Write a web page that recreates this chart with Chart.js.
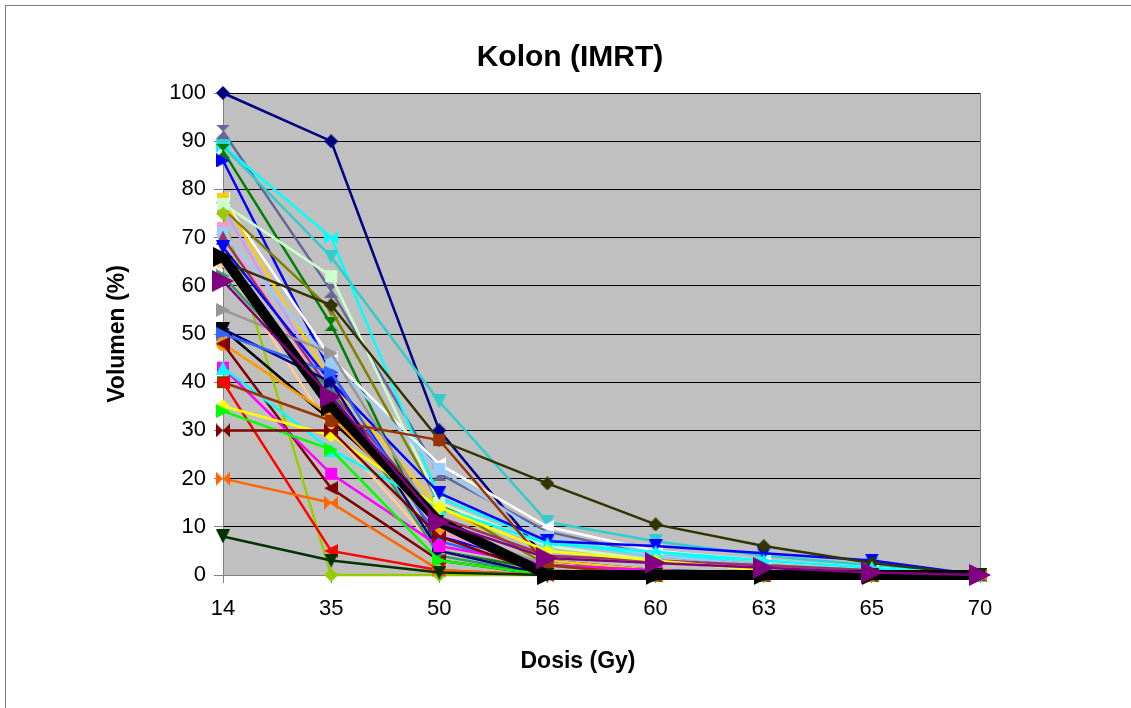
<!DOCTYPE html>
<html>
<head>
<meta charset="utf-8">
<script src="https://cdn.jsdelivr.net/npm/chart.js@4"></script>
<style>
html,body{margin:0;padding:0;background:#fff;}
#wrap{width:1131px;height:708px;position:relative;}
</style>
</head>
<body>
<div id="wrap"><canvas id="c" width="1131" height="708"></canvas></div>
<script>
// ---- data ----
const categories = ['14','35','50','56','60','63','65','70'];
const yTicks = [0,10,20,30,40,50,60,70,80,90,100];
const chartTitle = 'Kolon (IMRT)';
const xTitle = 'Dosis (Gy)';
const yTitle = 'Volumen (%)';

const p01 = [100, 90, 30, 3, 1, 0.5, 0, 0];
const p02 = [92, 59, 21, 9, 4, 2, 1, 0];
const p03 = [89, 70, 16, 7, 4, 3, 1.5, 0];
const p04 = [89, 66, 36, 11, 7, 4, 2, 0];
const p05 = [88, 52, 5, 1, 0, 0, 0, 0];
const p06 = [86, 42, 8, 2, 1, 0, 0, 0];
const p07 = [78, 45, 23, 10, 5, 3, 1.5, 0];
const p08 = [78, 40, 14, 3, 1, 0, 0, 0];
const p09 = [76, 38, 10, 1, 0, 0, 0, 0];
const p10 = [76, 55, 15, 2, 1, 0, 0, 0];
const p11 = [77, 62, 15, 6, 3, 1, 0, 0];
const p12 = [75, 0, 0, 0, 0, 0, 0, 0];
const p13 = [72, 36, 9, 1, 0, 0, 0, 0];
const p14 = [71, 44, 22, 8, 4, 2, 1, 0];
const p15 = [70, 38, 12, 4, 3, 2, 1, 0];
const p16 = [68, 40, 17, 7, 6, 4.5, 3, 0];
const p17 = [65, 56, 28, 19, 10.5, 6, 2.5, 0];
const p18 = [65, 30, 5, 0, 0, 0, 0, 0];
const p19 = [62, 38, 4, 0, 0, 0, 0, 0];
const p20 = [55, 46, 10, 2, 0, 0, 0, 0];
const p21 = [51, 40, 5, 0, 0, 0, 0, 0];
const p22 = [51, 32, 12, 0, 0, 0, 0, 0];
const p23 = [50, 42, 7, 1, 0, 0, 0, 0];
const p24 = [48, 33, 10, 1, 0, 0, 0, 0];
const p25 = [48, 18, 3, 0, 0, 0, 0, 0];
const p26 = [43, 21, 6, 2, 1, 0, 0, 0];
const p27 = [43, 26, 14, 6.5, 4.8, 3, 1.5, 0];
const p28 = [40, 32, 28, 2, 0, 0, 0, 0];
const p29 = [40, 5, 1, 0, 0, 0, 0, 0];
const p30 = [35, 29, 14, 5, 3, 1, 0, 0];
const p31 = [34, 26, 3, 0, 0, 0, 0, 0];
const p32 = [30, 30, 8, 0, 0, 0, 0, 0];
const p33 = [20, 15, 1, 0, 0, 0, 0, 0];
const p34 = [8, 3, 0.5, 0, 0, 0, 0, 0];
const pMean = [66, 35, 11, 0, 0, 0, 0, 0];
const p35 = [61, 37, 11, 3.5, 2.5, 1.5, 0.5, 0];

// ---- styles (colour, marker) ----
const seriesList = [
  [p01,'#000080','diamond'], [p02,'#666699','hourglass'], [p03,'#00FFFF','bowtie'],
  [p04,'#33CCCC','down'], [p05,'#008000','hourglass'], [p06,'#0000FF','right'],
  [p07,'#FFFFFF','left'], [p08,'#FFCC00','square'], [p09,'#CC99FF','square'],
  [p10,'#808000','down'], [p11,'#CCFFCC','square'], [p12,'#99CC00','diamond'],
  [p13,'#FF99CC','square'], [p14,'#99CCFF','square'], [p15,'#993366','up'],
  [p16,'#0000FF','down'], [p17,'#333300','diamond'], [p18,'#FFCC99','square'],
  [p19,'#339966','right'], [p20,'#969696','right'], [p21,'#000080','right'],
  [p22,'#000000','down'], [p23,'#3366FF','right'], [p24,'#FF9900','circle'],
  [p25,'#800000','left'], [p26,'#FF00FF','square'], [p27,'#00FFFF','up'],
  [p28,'#993300','square'], [p29,'#FF0000','left'], [p30,'#FFFF00','diamond'],
  [p31,'#00FF00','right'], [p32,'#800000','bowtie'], [p33,'#FF6600','bowtie'],
  [p34,'#003300','down'], [pMean,'#000000','mean'], [p35,'#800080','bigright']
];

function makeMarker(shape, color, s) {
  const cv = document.createElement('canvas');
  cv.width = s; cv.height = s;
  const g = cv.getContext('2d');
  g.fillStyle = color;
  g.beginPath();
  if (shape === 'hourglass') {
    g.moveTo(0,0); g.lineTo(s,0); g.lineTo(s/2,s/2); g.closePath();
    g.moveTo(0,s); g.lineTo(s,s); g.lineTo(s/2,s/2); g.closePath();
  } else if (shape === 'bowtie') {
    g.moveTo(0,0); g.lineTo(0,s); g.lineTo(s/2,s/2); g.closePath();
    g.moveTo(s,0); g.lineTo(s,s); g.lineTo(s/2,s/2); g.closePath();
  } else if (shape === 'right') {
    g.moveTo(0,0); g.lineTo(s,s/2); g.lineTo(0,s); g.closePath();
  } else if (shape === 'left') {
    g.moveTo(s,0); g.lineTo(0,s/2); g.lineTo(s,s); g.closePath();
  } else if (shape === 'down') {
    g.moveTo(0,0); g.lineTo(s,0); g.lineTo(s/2,s); g.closePath();
  } else if (shape === 'up') {
    g.moveTo(s/2,0); g.lineTo(s,s); g.lineTo(0,s); g.closePath();
  } else if (shape === 'diamond') {
    g.moveTo(s/2,0); g.lineTo(s,s/2); g.lineTo(s/2,s); g.lineTo(0,s/2); g.closePath();
  } else if (shape === 'circle') {
    g.arc(s/2,s/2,s/2,0,Math.PI*2);
  } else {
    g.rect(1,1,s-2,s-2);
  }
  g.fill();
  return cv;
}

const N = seriesList.length;
const datasets = seriesList.map((sd, i) => {
  const [vals, color, shape] = sd;
  let marker, width = 2.5;
  if (shape === 'mean') { marker = makeMarker('right', '#000000', 20); width = 10; }
  else if (shape === 'bigright') { marker = makeMarker('right', color, 22); }
  else marker = makeMarker(shape, color, 14);
  return {
    label: 'S' + (i + 1),
    data: vals,
    borderColor: color,
    backgroundColor: color,
    borderWidth: width,
    pointStyle: marker,
    pointRadius: 7,
    pointHoverRadius: 7,
    tension: 0,
    fill: false,
    clip: false,
    order: N - i
  };
});

const decor = {
  id: 'decor',
  beforeDraw(chart) {
    const { ctx, chartArea: a } = chart;
    ctx.save();
    ctx.fillStyle = '#fff';
    ctx.fillRect(0, 0, chart.width, chart.height);
    ctx.strokeStyle = '#808080';
    ctx.lineWidth = 1;
    ctx.strokeRect(5.5, 5.5, 2000, 2000);
    ctx.fillStyle = '#C0C0C0';
    ctx.fillRect(a.left, a.top, a.right - a.left, a.bottom - a.top);
    ctx.restore();
  },
  beforeDatasetsDraw(chart) {
    const { ctx, chartArea: a } = chart;
    ctx.save();
    ctx.strokeStyle = '#808080';
    ctx.lineWidth = 1;
    ctx.beginPath();
    ctx.moveTo(Math.round(a.right) + 0.5, a.top);
    ctx.lineTo(Math.round(a.right) + 0.5, a.bottom);
    ctx.stroke();
    ctx.restore();
  },
  afterDraw(chart) {
    const { ctx } = chart;
    ctx.save();
    ctx.fillStyle = '#000';
    ctx.textAlign = 'center';
    ctx.textBaseline = 'middle';
    ctx.font = 'bold 30px "Liberation Sans", Arial, sans-serif';
    ctx.fillText(chartTitle, 570, 58);
    ctx.font = 'bold 23px "Liberation Sans", Arial, sans-serif';
    ctx.fillText(xTitle, 578, 662);
    ctx.translate(118, 334);
    ctx.rotate(-Math.PI / 2);
    ctx.fillText(yTitle, 0, 0);
    ctx.restore();
  }
};

new Chart(document.getElementById('c'), {
  type: 'line',
  data: { labels: categories, datasets },
  plugins: [decor],
  options: {
    responsive: false,
    animation: false,
    devicePixelRatio: 1,
    layout: { padding: { left: 0, top: 93, right: 151, bottom: 0 } },
    plugins: { legend: { display: false }, tooltip: { enabled: false }, title: { display: false } },
    scales: {
      x: {
        type: 'category',
        offset: false,
        afterFit(s) { s.height = 133; },
        grid: { drawOnChartArea: false, drawTicks: true, tickLength: 8, tickColor: '#808080' },
        border: { color: '#808080', width: 1 },
        ticks: { color: '#000', padding: 13, maxRotation: 0, autoSkip: false,
          font: { family: '"Liberation Sans", Arial, sans-serif', size: 22 } }
      },
      y: {
        min: 0, max: 100,
        afterFit(s) { s.width = 223; },
        afterBuildTicks(s) { s.ticks = yTicks.map(v => ({ value: v })); },
        grid: { color: '#000000', lineWidth: 1, drawTicks: true, tickLength: 9, tickColor: '#808080' },
        border: { color: '#808080', width: 1 },
        ticks: { color: '#000', padding: 8,
          font: { family: '"Liberation Sans", Arial, sans-serif', size: 22 } }
      }
    }
  }
});
</script>
</body>
</html>
